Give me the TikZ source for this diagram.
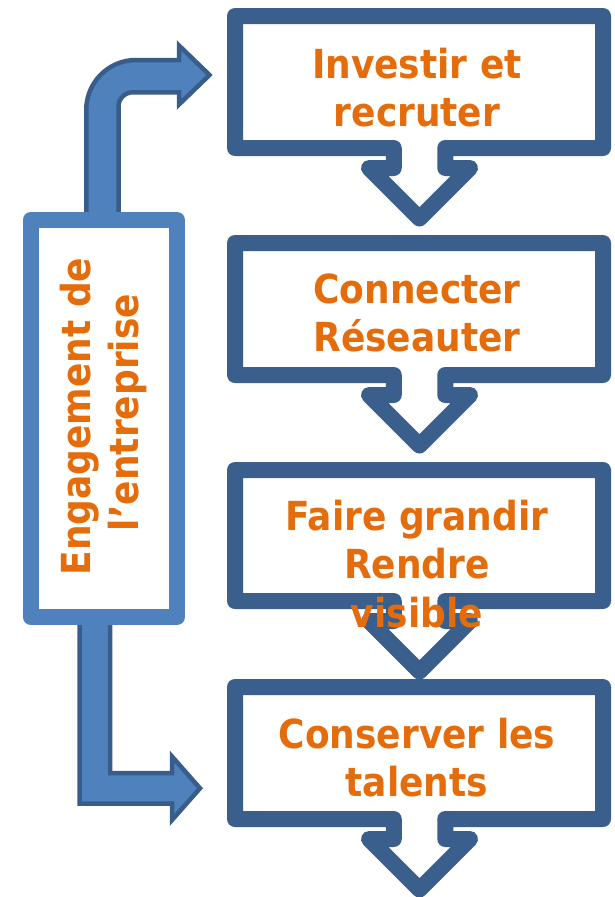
\documentclass[tikz,border=0pt]{standalone}
\usepackage{fontspec}
\newfontfamily\lblfamily{DejaVu Sans Condensed}
\definecolor{boxblue}{HTML}{3B5F8C}
\definecolor{sideblue}{HTML}{4F81BD}
\definecolor{arrowblue}{HTML}{4F81BD}
\definecolor{arrowdark}{HTML}{385D8A}
\definecolor{txtorange}{HTML}{E46C0A}
\newcommand\stepcallout[3]{%
  \draw[stepshape] (235,#2) -- (603,#2) -- (603,#3) -- (445.25,#3) -- (445.25,{#3+20}) -- (470,{#3+20})
    -- (419.5,{#3+70.5}) coordinate (#1tip) -- (369,{#3+20}) -- (393.75,{#3+20}) -- (393.75,#3) -- (235,#3) -- cycle;}
\begin{document}
\begin{tikzpicture}[x=1pt,y=-1pt,
  stepshape/.style={draw=boxblue,line width=16pt,line join=round,fill=white},
  sidebox/.style={draw=sideblue,line width=16pt,line join=round,fill=white},
  bentarrow/.style={draw=arrowdark,fill=arrowblue,line width=4.5pt,line join=miter},
  lbl/.style={text=txtorange,font=\lblfamily\bfseries\fontsize{40}{48}\selectfont,inner sep=0pt,anchor=base}]
\useasboundingbox (0,0) rectangle (615,897);
% bent arrows
\draw[bentarrow] (86.25,218) -- (86.25,110) .. controls (86.25,82.4) and (108.4,60) .. (136,60)
  -- (179,60) -- (179,45.5) -- (209.5,75) -- (179,104.5) -- (179,92.25)
  -- (133,92.25) .. controls (125,92.25) and (118.5,98.5) .. (118.5,106.5) -- (118.5,218) -- cycle;
\draw[bentarrow] (79.5,616) -- (79.5,803.5) -- (172,803.5) -- (172,820) -- (200,788.3)
  -- (172,756.5) -- (172,773) -- (110,773) -- (110,616) -- cycle;
% side box
\draw[sidebox] (30.5,220) rectangle (177,617);
\node[lbl,rotate=90] (s1) at (90.7,416.5) {Engagement de};
\node[lbl,rotate=90] (s2) at (138.7,412.5) {l’entreprise};
% step boxes
\stepcallout{b1}{16}{148}
\stepcallout{b2}{243}{375}
\stepcallout{b3}{470}{601}
\stepcallout{b4}{687}{819}
\node[lbl] (t1a) at (417,78) {Investir et};
\node[lbl] (t1b) at (417,126) {recruter};
\node[lbl] (t2a) at (417,303.5) {Connecter};
\node[lbl] (t2b) at (417,351.5) {Réseauter};
\node[lbl] (t3a) at (417,530) {Faire grandir};
\node[lbl] (t3b) at (417,578.5) {Rendre};
\node[lbl] (t3c) at (417,627) {visible};
\node[lbl] (t4a) at (417,748.3) {Conserver les};
\node[lbl] (t4b) at (417,796.7) {talents};
\end{tikzpicture}
\end{document}
